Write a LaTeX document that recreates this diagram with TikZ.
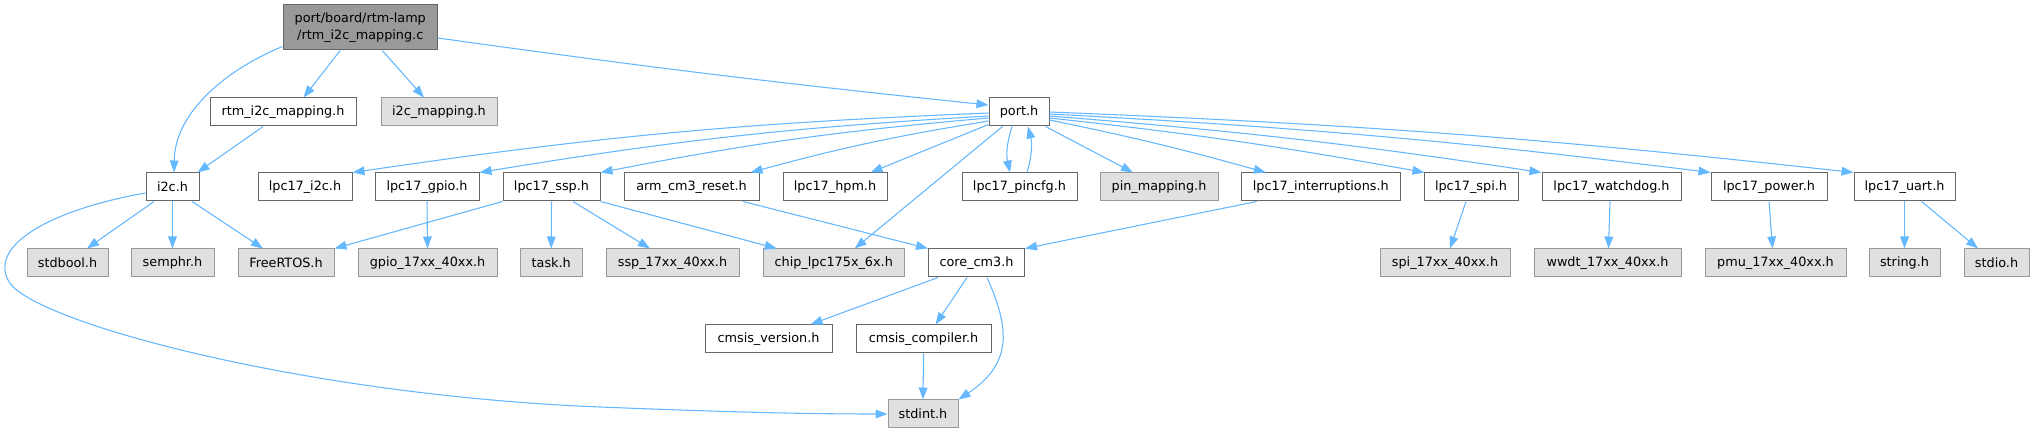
\documentclass[tikz,border=0pt]{standalone}
\usepackage{fontspec}
\setmainfont{DejaVu Sans}
\usetikzlibrary{arrows.meta,calc}
\definecolor{edgec}{HTML}{63B8FF}
\definecolor{bdark}{HTML}{666666}
\definecolor{blight}{HTML}{999999}
\definecolor{fgray}{HTML}{E0E0E0}
\definecolor{ftop}{HTML}{999999}
\begin{document}
\begin{tikzpicture}[x=0.75pt,y=-0.75pt,
  box/.style={draw=bdark, fill=white, line width=0.75pt, inner sep=0pt, minimum height=21pt, font=\fontsize{9.6}{12.75}\selectfont, text=black},
  ext/.style={box, draw=blight, fill=fgray},
  bw/.style={minimum width=#1*0.75pt},
  e/.style={draw=edgec, line width=0.8pt, -{Triangle[length=9pt,width=6.5pt]}},
]
\fill[white] (0,0) rectangle (2035,434);
\useasboundingbox (0,0) rectangle (2035,434);

% row 1
\node[box,fill=ftop,bw=154.5,minimum height=33.75pt,align=center] (T) at (360.25,27.5) {port/board/rtm-lamp\\/rtm\_i2c\_mapping.c};
% row 2
\node[box,bw=146] (rim) at (283,112) {rtm\_i2c\_mapping.h};
\node[ext,bw=116] (imap) at (439,112) {i2c\_mapping.h};
\node[box,bw=60] (port) at (1019,112) {port.h};
% row 3
\node[box,bw=53] (i2c) at (172.5,187) {i2c.h};
\node[box,bw=94] (li2c) at (305,187) {lpc17\_i2c.h};
\node[box,bw=104] (gpio) at (427,187) {lpc17\_gpio.h};
\node[box,bw=97] (ssp) at (551.5,187) {lpc17\_ssp.h};
\node[box,bw=135] (arm) at (691.5,187) {arm\_cm3\_reset.h};
\node[box,bw=104] (hpm) at (835,187) {lpc17\_hpm.h};
\node[box,bw=115] (pincfg) at (1019.5,187) {lpc17\_pincfg.h};
\node[ext,bw=118] (pinmap) at (1159,187) {pin\_mapping.h};
\node[box,bw=158.5] (intr) at (1320.75,187) {lpc17\_interruptions.h};
\node[box,bw=94] (spi) at (1471,187) {lpc17\_spi.h};
\node[box,bw=139] (wdog) at (1611.5,187) {lpc17\_watchdog.h};
\node[box,bw=116] (power) at (1769,187) {lpc17\_power.h};
\node[box,bw=101] (uart) at (1904.5,187) {lpc17\_uart.h};
% row 4
\node[ext,bw=81] (stdbool) at (67.5,263) {stdbool.h};
\node[ext,bw=83] (semphr) at (172.5,263) {semphr.h};
\node[ext,bw=96] (freertos) at (286,263) {FreeRTOS.h};
\node[ext,bw=139] (gpio17) at (427.5,263) {gpio\_17xx\_40xx.h};
\node[ext,bw=61.5] (task) at (551.25,263) {task.h};
\node[ext,bw=133] (ssp17) at (672.5,263) {ssp\_17xx\_40xx.h};
\node[ext,bw=141.5] (chip) at (833.75,263) {chip\_lpc175x\_6x.h};
\node[box,bw=96] (core) at (976.5,263) {core\_cm3.h};
\node[ext,bw=130] (spi17) at (1445,263) {spi\_17xx\_40xx.h};
\node[ext,bw=147] (wwdt) at (1607.5,263) {wwdt\_17xx\_40xx.h};
\node[ext,bw=141] (pmu) at (1775.5,263) {pmu\_17xx\_40xx.h};
\node[ext,bw=71] (string) at (1904.5,263) {string.h};
\node[ext,bw=65] (stdio) at (1996.5,263) {stdio.h};
% row 5
\node[box,bw=127] (cver) at (768.5,339) {cmsis\_version.h};
\node[box,bw=135] (ccomp) at (923.5,339) {cmsis\_compiler.h};
% row 6
\node[ext,bw=70] (stdint) at (923,414) {stdint.h};

% edges from top node
\draw[e] ($(T.south west)+(0,-4)$) .. controls (230,68) and (175,110) .. ($(i2c.north)+(1.5,0)$);
\draw[e] ($(T.south)+(-20,0)$) -- ($(rim.north)+(20.5,0)$);
\draw[e] ($(T.south)+(22,0)$) -- ($(imap.north)+(-15,0)$);
\draw[e] ($(T.east)+(0,10.5)$) to[bend right=1] ($(port.west)+(0,-7)$);
\draw[e] ($(rim.south)+(-20,0)$) -- ($(i2c.north east)+(-2,0)$);
% i2c.h
\draw[e] ($(i2c.south)+(-18.5,0)$) -- ($(stdbool.north)+(19.5,0)$);
\draw[e] (i2c.south) -- (semphr.north);
\draw[e] ($(i2c.south)+(19.5,0)$) -- ($(freertos.north)+(-23,0)$);
\draw[e] ($(i2c.west)+(0,6)$) .. controls (50,210) and (-10,245) .. (8,280)
   .. controls (25,320) and (300,395) .. (600,407)
   .. controls (750,413) and (820,414) .. (stdint.west);
% port.h fan
\draw[e] ($(port.west)+(0,1)$) to[bend right=3] (li2c.north east);
\draw[e] ($(port.west)+(0,4)$) to[bend right=3] (gpio.north east);
\draw[e] ($(port.west)+(0,6)$) to[bend right=3] (ssp.north east);
\draw[e] ($(port.west)+(0,9)$) to[bend right=3] ($(arm.north east)+(-9,0)$);
\draw[e] ($(port.south west)+(0,-2)$) -- ($(hpm.north east)+(-17,0)$);
\draw[e] ($(port.south west)+(14,0)$) -- ($(chip.north)+(21,0)$);
\draw[e] ($(port.south)+(-7,0)$) to[bend right=15] ($(pincfg.north)+(-9.5,0)$);
\draw[e] ($(pincfg.north)+(7.5,0)$) to[bend right=15] ($(port.south)+(9,0)$);
\draw[e] ($(port.south east)+(-4,0)$) -- ($(pinmap.north)+(-26,0)$);
\draw[e] ($(port.east)+(0,8)$) to[bend left=2] ($(intr.north)+(-55,0)$);
\draw[e] ($(port.east)+(0,6)$) to[bend left=2] ($(spi.north west)+(1,0)$);
\draw[e] ($(port.east)+(0,4)$) to[bend left=2] (wdog.north west);
\draw[e] ($(port.east)+(0,2)$) to[bend left=2] (power.north west);
\draw[e] (port.east) to[bend left=2] (uart.north west);
% row 3 -> row 4
\draw[e] (gpio.south) -- (gpio17.north);
\draw[e] (ssp.south west) -- (freertos.north east);
\draw[e] (ssp.south) -- (task.north);
\draw[e] ($(ssp.south)+(21.5,0)$) -- ($(ssp17.north)+(-22.5,0)$);
\draw[e] (ssp.south east) -- ($(chip.north)+(-57,0)$);
\draw[e] ($(arm.south)+(51.5,0)$) -- (core.north west);
\draw[e] ($(intr.south)+(-64,0)$) -- (core.north east);
\draw[e] ($(spi.south)+(-5,0)$) -- ($(spi17.north)+(5,0)$);
\draw[e] ($(wdog.south)+(-1.5,0)$) -- ($(wwdt.north)+(1,0)$);
\draw[e] (power.south) -- ($(pmu.north)+(-3,0)$);
\draw[e] (uart.south) -- (string.north);
\draw[e] ($(uart.south)+(17,0)$) -- ($(stdio.north)+(-18.5,0)$);
% core_cm3
\draw[e] ($(core.south)+(-38.5,0)$) -- ($(cver.north)+(42,0)$);
\draw[e] ($(core.south)+(-9.5,0)$) -- ($(ccomp.north)+(12,0)$);
\draw[e] ($(core.south)+(10.5,0)$) .. controls (1008,325) and (1015,362) .. (stdint.north east);
\draw[e] (ccomp.south) -- (stdint.north);
\end{tikzpicture}
\end{document}
